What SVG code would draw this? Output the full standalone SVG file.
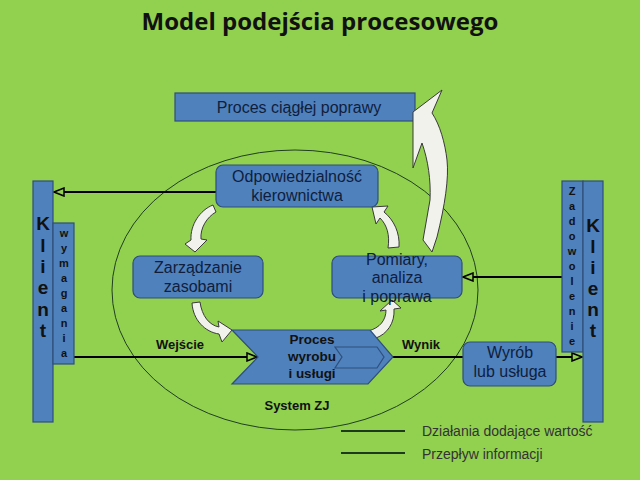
<svg xmlns="http://www.w3.org/2000/svg" width="640" height="480" viewBox="0 0 640 480">
<defs>
<style>
.bg{fill:#92D050}
.box{fill:#4F81BD;stroke:#2F4F7A;stroke-width:1.2}
.txt{font-family:"Liberation Sans",Arial,sans-serif;font-size:16px;fill:#0F1E3C;text-anchor:middle}
.bold{font-family:"Liberation Sans",Arial,sans-serif;font-weight:bold;fill:#111;text-anchor:middle}
.flow{stroke:#000;stroke-width:2;fill:none}
.blk{fill:#F2F2EC;stroke:#3A3A3A;stroke-width:1}
.vert{font-family:"Liberation Sans",Arial,sans-serif;font-weight:bold;fill:#111;text-anchor:middle}
.leg{font-family:"Liberation Sans",Arial,sans-serif;font-size:14px;fill:#333}
</style>
<marker id="ah" markerUnits="userSpaceOnUse" markerWidth="12" markerHeight="10" refX="11" refY="5" orient="auto">
<path d="M1,1 L11,5 L1,9 Z" fill="#92D050" stroke="#000" stroke-width="1.5"/>
</marker>
</defs>
<rect class="bg" x="0" y="0" width="640" height="480"/>
<text x="320" y="30" font-family="'Open Sans','Liberation Sans',sans-serif" font-weight="bold" font-size="24" fill="#111" text-anchor="middle">Model podejścia procesowego</text>

<ellipse id="system" cx="295" cy="290" rx="183" ry="140" fill="none" stroke="#1F3F1F" stroke-width="1"/>
<text class="bold" x="297" y="410" font-size="13">System ZJ</text>

<g id="poprawa">
<rect class="box" x="175" y="93" width="240" height="28"/>
<text class="txt" x="299" y="113" font-size="17.5">Proces ciągłej poprawy</text>
</g>

<g id="connectors">
<line class="flow" x1="216" y1="192" x2="54" y2="192" marker-end="url(#ah)"/>
<line class="flow" x1="562" y1="277" x2="463" y2="277" marker-end="url(#ah)"/>
<line class="flow" x1="74" y1="357" x2="257" y2="357" marker-end="url(#ah)"/>
<line class="flow" x1="393" y1="357" x2="582" y2="357" marker-end="url(#ah)"/>
<text class="bold" x="180" y="349" font-size="13">Wejście</text>
<text class="bold" x="421" y="349" font-size="13">Wynik</text>
<path class="blk" d="M213,205 C200,210 190,225 191,240 L185,244 L195,252 L207,240 L201,239 C200,228 207,217 216,212 Z"/>
<path class="blk" d="M192,303 C193,320 205,332 219,334 L222,342 L232,330 L218,321 L219,327 C209,325 202,316 200,302 Z"/>
<path class="blk" d="M368,331 C380,328 386,320 386,310 L380,311 L392,300 L401,308 L394,309 C395,323 387,334 376,338 Z"/>
<path class="blk" d="M388,248 C390,235 387,225 380,218 L376,224 L372,207 L388,206 L384,212 C394,220 400,233 399,247 Z"/>
<path class="blk" d="M442,90 L413,112 L413,168 L422,143 C428,160 431,180 430,200 L423,240 L432,252 L437,237 C445,205 449,178 447,160 C445,143 440,125 432,113 Z"/>
</g>

<g id="odpowiedzialnosc">
<rect class="box" x="216" y="165" width="162" height="42" rx="7"/>
<text class="txt" x="297" y="182">Odpowiedzialność</text>
<text class="txt" x="297" y="201">kierownictwa</text>
</g>

<g id="zarzadzanie">
<rect class="box" x="133" y="256" width="130" height="42" rx="7"/>
<text class="txt" x="198" y="273">Zarządzanie</text>
<text class="txt" x="198" y="292">zasobami</text>
</g>

<g id="pomiary">
<rect class="box" x="332" y="256" width="130" height="42" rx="7"/>
<text class="txt" x="397" y="265">Pomiary,</text>
<text class="txt" x="397" y="283">analiza</text>
<text class="txt" x="397" y="302">i poprawa</text>
</g>

<g id="proces">
<path class="box" d="M232,330 L370,330 L393,357 L368,384 L232,384 L258,357 Z"/>
<path fill="none" stroke="#2F4F7A" stroke-width="1.2" d="M335,347 L377,347 L384,357 L377,368 L335,368 L342,357 Z"/>
<text class="bold" x="312" y="344" font-size="13.5" fill="#0F1E3C">Proces</text>
<text class="bold" x="312" y="361" font-size="13.5" fill="#0F1E3C">wyrobu</text>
<text class="bold" x="312" y="378" font-size="13.5" fill="#0F1E3C">i usługi</text>
</g>

<g id="wyrob">
<rect class="box" x="463" y="342" width="93" height="44" rx="7"/>
<text class="txt" x="510" y="358">Wyrób</text>
<text class="txt" x="510" y="377">lub usługa</text>
</g>

<g id="klient-lewy">
<rect class="box" x="33" y="181" width="20" height="241"/>
<text class="vert" font-size="19" x="43"><tspan x="43" y="230">K</tspan><tspan x="43" y="252">l</tspan><tspan x="43" y="273">i</tspan><tspan x="43" y="294">e</tspan><tspan x="43" y="316">n</tspan><tspan x="43" y="337">t</tspan></text>
</g>

<g id="wymagania">
<rect class="box" x="53" y="223" width="21" height="141"/>
<text class="vert" font-size="11" x="64"><tspan x="64" y="237">w</tspan><tspan x="64" y="252">y</tspan><tspan x="64" y="267">m</tspan><tspan x="64" y="282">a</tspan><tspan x="64" y="297">g</tspan><tspan x="64" y="312">a</tspan><tspan x="64" y="327">n</tspan><tspan x="64" y="342">i</tspan><tspan x="64" y="357">a</tspan></text>
</g>

<g id="zadowolenie">
<rect class="box" x="562" y="181" width="21" height="171"/>
<text class="vert" font-size="11" x="572"><tspan x="572" y="195">Z</tspan><tspan x="572" y="210">a</tspan><tspan x="572" y="225">d</tspan><tspan x="572" y="240">o</tspan><tspan x="572" y="255">w</tspan><tspan x="572" y="270">o</tspan><tspan x="572" y="285">l</tspan><tspan x="572" y="300">e</tspan><tspan x="572" y="315">n</tspan><tspan x="572" y="330">i</tspan><tspan x="572" y="345">e</tspan></text>
</g>

<g id="klient-prawy">
<rect class="box" x="583" y="181" width="20" height="241"/>
<text class="vert" font-size="19" x="593"><tspan x="593" y="232">K</tspan><tspan x="593" y="253">l</tspan><tspan x="593" y="274">i</tspan><tspan x="593" y="295">e</tspan><tspan x="593" y="316">n</tspan><tspan x="593" y="337">t</tspan></text>
</g>

<g id="legenda">
<line x1="341" y1="431" x2="405" y2="431" stroke="#1E3A1E" stroke-width="2"/>
<line x1="341" y1="453" x2="405" y2="453" stroke="#1E3A1E" stroke-width="2"/>
<text class="leg" x="422" y="436">Działania dodające wartość</text>
<text class="leg" x="422" y="459">Przepływ informacji</text>
</g>
</svg>
